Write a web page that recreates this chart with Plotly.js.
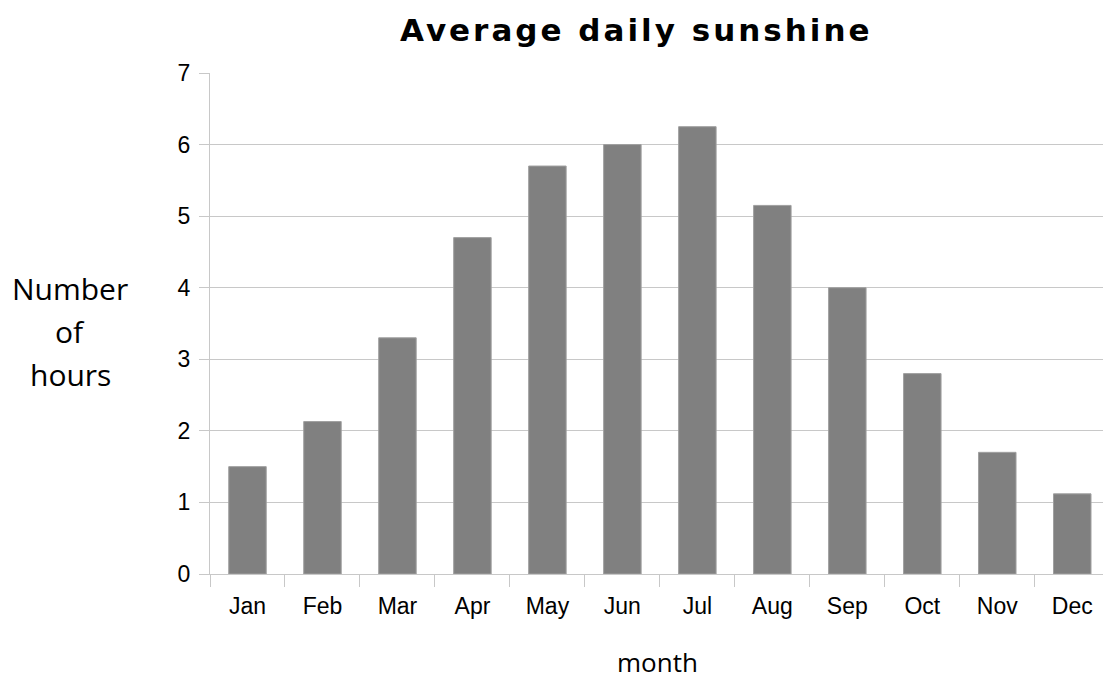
<!DOCTYPE html>
<html>
<head>
<meta charset="utf-8">
<script src="https://cdn.plot.ly/plotly-3.0.1.min.js"></script>
<style>
html,body{margin:0;padding:0;background:#fff;}
#chart{width:1103px;height:681px;}
</style>
</head>
<body>
<div id="chart"></div>
<script>
const months = ["Jan","Feb","Mar","Apr","May","Jun","Jul","Aug","Sep","Oct","Nov","Dec"];
const sunshineHours = [1.5, 2.13, 3.3, 4.7, 5.7, 6.0, 6.25, 5.15, 4.0, 2.8, 1.7, 1.12];
const yTicks = [0,1,2,3,4,5,6,7];
const yTitleLines = ["Number", "of", "hours"];

const trace = {
  type: "bar",
  x: months,
  y: sunshineHours,
  marker: {color: "#808080", line: {color: "#a0a0a0", width: 1}},
  hoverinfo: "x+y"
};

const sans = "Liberation Sans, Arial, sans-serif";
const px = (x) => (x - 210) / 893;
const py = (y) => (574 - y) / 501;

const annotations = [
  {text: "<b><span style='letter-spacing:3px'>Average daily sunshine</span></b>", xref: "paper", yref: "paper",
   x: px(636), y: py(30), xanchor: "center", yanchor: "middle", showarrow: false,
   font: {size: 31, family: "DejaVu Sans, sans-serif"}},
  {text: "month", xref: "paper", yref: "paper",
   x: px(657), y: py(662), xanchor: "center", yanchor: "middle", showarrow: false,
   font: {size: 26, family: "Open Sans, sans-serif"}}
];
const yTitleY = [288, 331, 375];
yTitleLines.forEach((t, i) => annotations.push({
  text: t, xref: "paper", yref: "paper",
  x: px(70), y: py(yTitleY[i]), xanchor: "center", yanchor: "middle", showarrow: false,
  font: {size: 30, family: "Open Sans, sans-serif"}
}));

const layout = {
  width: 1103, height: 681,
  margin: {l: 210, r: 0, t: 73, b: 107},
  paper_bgcolor: "#fff", plot_bgcolor: "#fff",
  bargap: 0.5,
  showlegend: false,
  font: {family: sans, color: "#000"},
  xaxis: {
    type: "category",
    range: [-0.5, 11.41],
    tickson: "boundaries",
    ticks: "outside", ticklen: 12, tickcolor: "#c8c8c8", tickwidth: 1,
    showgrid: false,
    showline: true, linecolor: "#c8c8c8", linewidth: 1,
    tickfont: {size: 23, family: sans},
    ticklabelstandoff: 11,
    fixedrange: true
  },
  yaxis: {
    range: [0, 7],
    tickvals: yTicks,
    ticks: "outside", ticklen: 10, tickcolor: "#c8c8c8", tickwidth: 1,
    showgrid: true, gridcolor: "#c8c8c8", gridwidth: 1,
    showline: true, linecolor: "#c8c8c8", linewidth: 1,
    zeroline: false,
    tickfont: {size: 23, family: sans},
    ticklabelstandoff: 4,
    fixedrange: true
  },
  annotations: annotations
};

Plotly.newPlot("chart", [trace], layout, {displayModeBar: false, staticPlot: true});
</script>
</body>
</html>
